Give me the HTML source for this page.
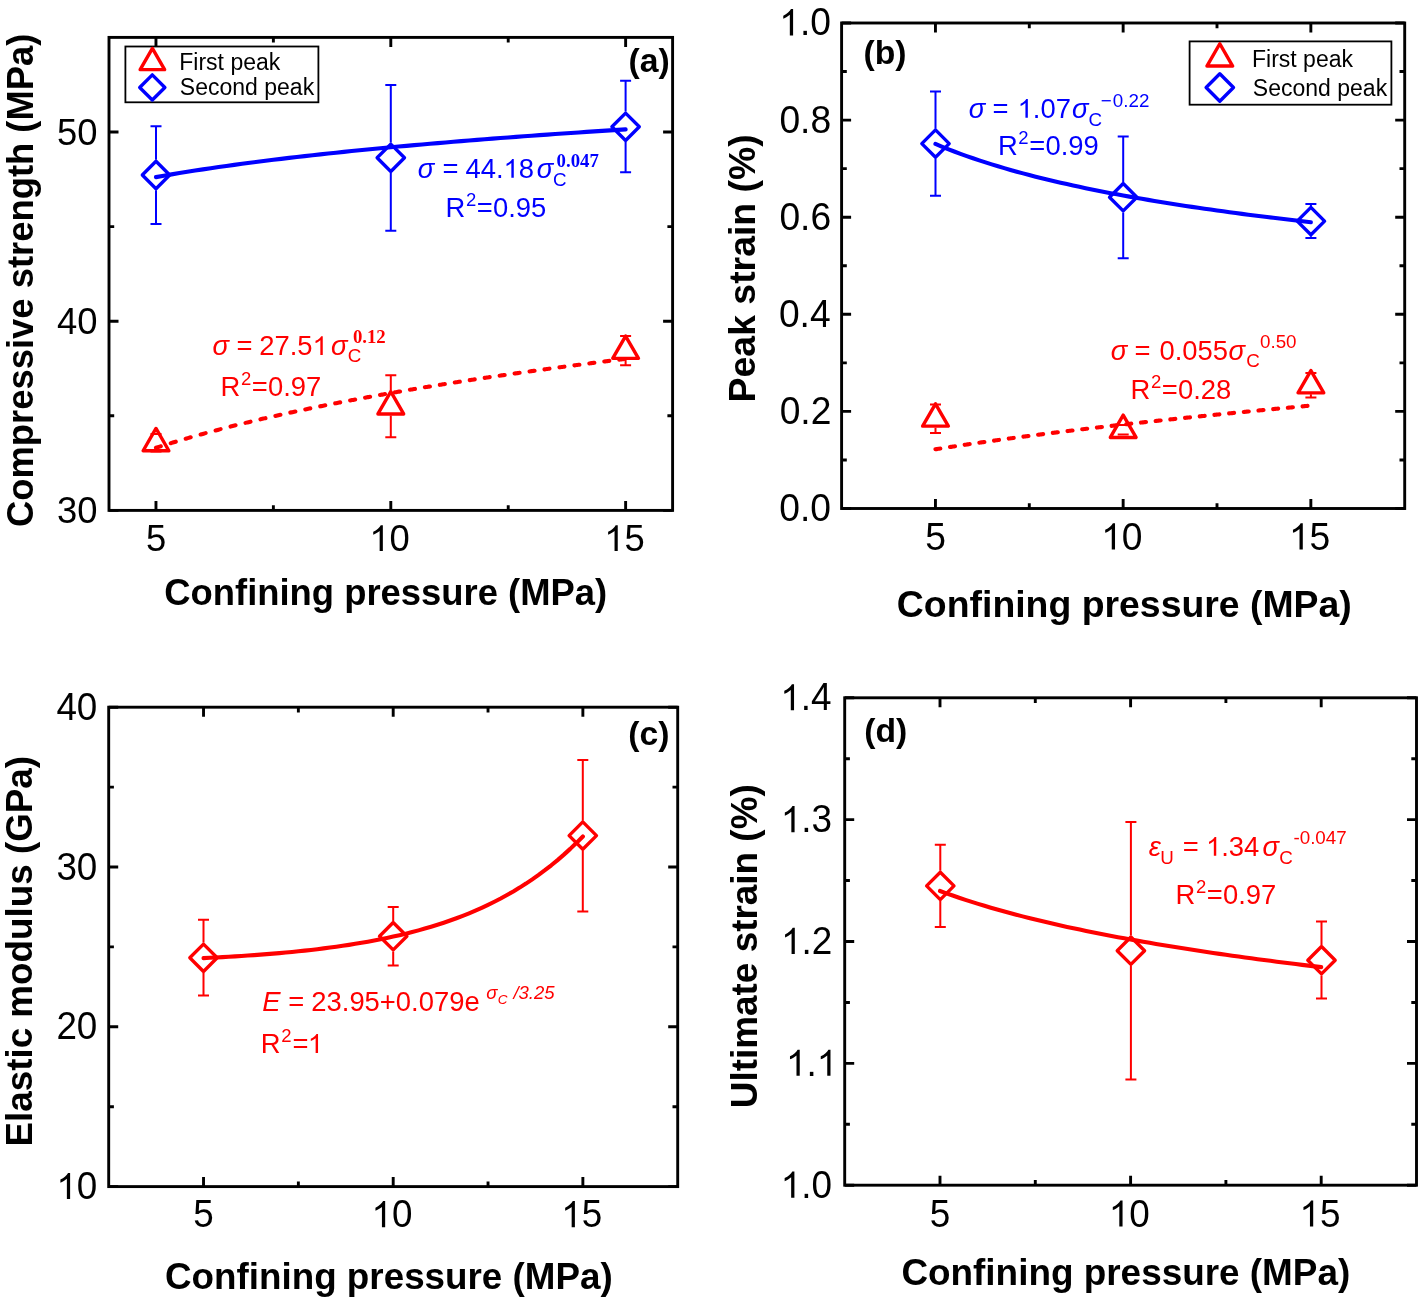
<!DOCTYPE html>
<html><head><meta charset="utf-8"><style>html,body{margin:0;padding:0;background:#fff;overflow:hidden}svg{display:block;will-change:transform}</style></head>
<body><svg width="1419" height="1303" viewBox="0 0 1419 1303">
<rect width="1419" height="1303" fill="#fff"/>
<path d="M155.97 510.40v-9.5M155.97 37.40v9.5M390.80 510.40v-9.5M390.80 37.40v9.5M625.63 510.40v-9.5M625.63 37.40v9.5M273.38 510.40v-5.2M273.38 37.40v5.2M508.22 510.40v-5.2M508.22 37.40v5.2M109.00 510.40h9.5M672.60 510.40h-9.5M109.00 321.20h9.5M672.60 321.20h-9.5M109.00 132.00h9.5M672.60 132.00h-9.5M109.00 415.80h5.2M672.60 415.80h-5.2M109.00 226.60h5.2M672.60 226.60h-5.2" stroke="#000" stroke-width="2.9" fill="none"/>
<rect x="109.00" y="37.40" width="563.60" height="473.00" stroke="#000" stroke-width="2.9" fill="none" stroke-linejoin="miter"/>
<g transform="translate(145.88,551.00) scale(1,1.03)" fill="#000"><text x="0.00" y="0" font-family="'Liberation Sans', sans-serif" font-size="36.4">5</text></g>
<g transform="translate(369.29,551.00) scale(1,1.03)" fill="#000"><path d="M763 0L583 0L583 1098Q518 1038 412 979Q306 920 222 890L222 1057Q373 1125 486 1221Q599 1318 646 1409L763 1409Z" transform="translate(0.00,0) scale(0.01777,-0.01777)"/><text x="20.24" y="0" font-family="'Liberation Sans', sans-serif" font-size="36.4">0</text></g>
<g transform="translate(604.18,551.00) scale(1,1.03)" fill="#000"><path d="M763 0L583 0L583 1098Q518 1038 412 979Q306 920 222 890L222 1057Q373 1125 486 1221Q599 1318 646 1409L763 1409Z" transform="translate(0.00,0) scale(0.01777,-0.01777)"/><text x="20.24" y="0" font-family="'Liberation Sans', sans-serif" font-size="36.4">5</text></g>
<g transform="translate(57.03,523.10) scale(1,1.03)" fill="#000"><text x="0.00" y="0" font-family="'Liberation Sans', sans-serif" font-size="36.4">30</text></g>
<g transform="translate(57.03,333.90) scale(1,1.03)" fill="#000"><text x="0.00" y="0" font-family="'Liberation Sans', sans-serif" font-size="36.4">40</text></g>
<g transform="translate(57.03,144.70) scale(1,1.03)" fill="#000"><text x="0.00" y="0" font-family="'Liberation Sans', sans-serif" font-size="36.4">50</text></g>
<text transform="translate(32.60,280.40) rotate(-90)" x="-246.61" y="0" font-family="'Liberation Sans', sans-serif" font-size="36.4" font-weight="bold" fill="#000">Compressive strength (MPa)</text>
<text x="164.31" y="605.00" font-family="'Liberation Sans', sans-serif" font-size="36.4" font-weight="bold" fill="#000">Confining pressure (MPa)</text>
<text x="628.62" y="71.60" font-family="'Liberation Sans', sans-serif" font-size="33.7" font-weight="bold" fill="#000">(a)</text>
<path d="M150.50 126.20h11.0M150.50 223.90h11.0M156.00 126.20V159.80M156.00 190.20V223.90" stroke="#0000ff" stroke-width="2.0" fill="none"/><path d="M156.00 161.30L169.70 175.00L156.00 188.70L142.30 175.00Z" stroke="#0000ff" stroke-width="3.35" fill="none" stroke-linejoin="round"/>
<path d="M385.30 85.10h11.0M385.30 230.80h11.0M390.80 85.10V142.60M390.80 173.00V230.80" stroke="#0000ff" stroke-width="2.0" fill="none"/><path d="M390.80 144.10L404.50 157.80L390.80 171.50L377.10 157.80Z" stroke="#0000ff" stroke-width="3.35" fill="none" stroke-linejoin="round"/>
<path d="M620.10 80.80h11.0M620.10 172.20h11.0M625.60 80.80V111.60M625.60 142.00V172.20" stroke="#0000ff" stroke-width="2.0" fill="none"/><path d="M625.60 113.10L639.30 126.80L625.60 140.50L611.90 126.80Z" stroke="#0000ff" stroke-width="3.35" fill="none" stroke-linejoin="round"/>
<path d="M150.50 434.00h11.0M150.50 451.40h11.0" stroke="#ff0000" stroke-width="2.0" fill="none"/><path d="M156.00 428.43L168.87 450.73L143.13 450.73Z" stroke="#ff0000" stroke-width="3.4" fill="none" stroke-linejoin="round"/>
<path d="M385.30 375.20h11.0M385.30 437.20h11.0M390.80 375.20V390.63M390.80 415.43V437.20" stroke="#ff0000" stroke-width="2.0" fill="none"/><path d="M390.80 391.63L403.67 413.93L377.93 413.93Z" stroke="#ff0000" stroke-width="3.4" fill="none" stroke-linejoin="round"/>
<path d="M620.10 336.10h11.0M620.10 365.20h11.0M625.60 359.83V365.20" stroke="#ff0000" stroke-width="2.0" fill="none"/><path d="M625.60 336.03L638.47 358.33L612.73 358.33Z" stroke="#ff0000" stroke-width="3.4" fill="none" stroke-linejoin="round"/>
<polyline points="155.97,177.13 163.79,175.74 171.62,174.39 179.45,173.08 187.28,171.81 195.11,170.58 202.93,169.37 210.76,168.20 218.59,167.06 226.42,165.95 234.24,164.86 242.07,163.80 249.90,162.76 257.73,161.75 265.56,160.76 273.38,159.79 281.21,158.84 289.04,157.91 296.87,156.99 304.69,156.10 312.52,155.22 320.35,154.36 328.18,153.52 336.01,152.69 343.83,151.88 351.66,151.08 359.49,150.29 367.32,149.52 375.14,148.76 382.97,148.01 390.80,147.28 398.63,146.55 406.46,145.84 414.28,145.14 422.11,144.45 429.94,143.77 437.77,143.10 445.59,142.43 453.42,141.78 461.25,141.14 469.08,140.50 476.91,139.88 484.73,139.26 492.56,138.65 500.39,138.05 508.22,137.46 516.04,136.87 523.87,136.29 531.70,135.72 539.53,135.16 547.36,134.60 555.18,134.05 563.01,133.50 570.84,132.96 578.67,132.43 586.49,131.90 594.32,131.38 602.15,130.87 609.98,130.36 617.81,129.86 625.63,129.36" stroke="#0000ff" stroke-width="4.1" fill="none" stroke-linecap="round" stroke-linejoin="round"/>
<path d="M155.97 447.82L156.93 447.51L157.90 447.20L158.87 446.89L159.83 446.59L160.80 446.28M170.75 443.18L171.75 442.88L172.75 442.57L173.75 442.27L174.75 441.97L175.75 441.67M185.70 438.73L186.70 438.44L187.70 438.15L188.70 437.86L189.70 437.57L190.70 437.29M200.65 434.49L201.65 434.21L202.65 433.94L203.65 433.66L204.65 433.39L205.65 433.11M215.60 430.44L216.60 430.18L217.60 429.92L218.60 429.65L219.60 429.39L220.60 429.13M230.55 426.58L231.55 426.32L232.55 426.07L233.55 425.82L234.55 425.57L235.55 425.32M245.50 422.87L246.50 422.63L247.50 422.39L248.50 422.15L249.50 421.91L250.50 421.67M260.45 419.31L261.45 419.08L262.45 418.85L263.45 418.62L264.45 418.38L265.45 418.15M275.40 415.89L276.40 415.67L277.40 415.44L278.40 415.22L279.40 415.00L280.40 414.77M290.35 412.59L291.35 412.38L292.35 412.16L293.35 411.94L294.35 411.73L295.35 411.51M305.30 409.41L306.30 409.20L307.30 408.99L308.30 408.78L309.30 408.58L310.30 408.37M320.25 406.33L321.25 406.13L322.25 405.93L323.25 405.73L324.25 405.53L325.25 405.33M335.20 403.36L336.20 403.16L337.20 402.97L338.20 402.77L339.20 402.58L340.20 402.38M350.15 400.47L351.15 400.29L352.15 400.10L353.15 399.91L354.15 399.72L355.15 399.53M365.10 397.68L366.10 397.50L367.10 397.31L368.10 397.13L369.10 396.95L370.10 396.76M380.05 394.97L381.05 394.79L382.05 394.61L383.05 394.43L384.05 394.25L385.05 394.08M395.00 392.33L396.00 392.15L397.00 391.98L398.00 391.81L399.00 391.63L400.00 391.46M409.95 389.76L410.95 389.59L411.95 389.43L412.95 389.26L413.95 389.09L414.95 388.92M424.90 387.27L425.90 387.10L426.90 386.94L427.90 386.77L428.90 386.61L429.90 386.45M439.85 384.83L440.85 384.67L441.85 384.51L442.85 384.35L443.85 384.19L444.85 384.03M454.80 382.46L455.80 382.31L456.80 382.15L457.80 381.99L458.80 381.84L459.80 381.68M469.75 380.15L470.75 380.00L471.75 379.84L472.75 379.69L473.75 379.54L474.75 379.39M484.70 377.89L485.70 377.74L486.70 377.59L487.70 377.44L488.70 377.29L489.70 377.15M499.65 375.68L500.65 375.54L501.65 375.39L502.65 375.25L503.65 375.10L504.65 374.96M514.60 373.53L515.60 373.38L516.60 373.24L517.60 373.10L518.60 372.96L519.60 372.81M529.55 371.42L530.55 371.28L531.55 371.14L532.55 371.00L533.55 370.86L534.55 370.72M544.50 369.35L545.50 369.21L546.50 369.08L547.50 368.94L548.50 368.81L549.50 368.67M559.45 367.33L560.45 367.20L561.45 367.06L562.45 366.93L563.45 366.80L564.45 366.66M574.40 365.35L575.40 365.22L576.40 365.09L577.40 364.96L578.40 364.83L579.40 364.70M589.35 363.41L590.35 363.28L591.35 363.15L592.35 363.02L593.35 362.89L594.35 362.77M604.30 361.50L605.30 361.38L606.30 361.25L607.30 361.13L608.30 361.00L609.30 360.88M619.25 359.64L620.25 359.51L621.25 359.39L622.25 359.27L623.25 359.14L624.25 359.02" stroke="#ff0000" stroke-width="4.1" fill="none" stroke-linecap="round" stroke-linejoin="round"/>
<rect x="125.4" y="46.5" width="193" height="55.8" stroke="#000" stroke-width="1.8" fill="#fff"/>
<path d="M152.40 48.47L164.64 69.67L140.16 69.67Z" stroke="#ff0000" stroke-width="3.4" fill="none" stroke-linejoin="round"/>
<path d="M152.30 74.85L164.90 87.45L152.30 100.05L139.70 87.45Z" stroke="#0000ff" stroke-width="3.35" fill="none" stroke-linejoin="round"/>
<text x="179.31" y="69.80" font-family="'Liberation Sans', sans-serif" font-size="23" fill="#000">First peak</text>
<text x="179.86" y="95.40" font-family="'Liberation Sans', sans-serif" font-size="23" fill="#000">Second peak</text>
<text x="417.79" y="177.80" font-family="'Liberation Sans', sans-serif" font-size="27.4" font-style="italic" fill="#0000ff">σ</text>
<text x="442.46" y="177.80" font-family="'Liberation Sans', sans-serif" font-size="27.4" fill="#0000ff">=</text>
<g transform="translate(465.47,177.80)" fill="#0000ff"><text x="0.00" y="0" font-family="'Liberation Sans', sans-serif" font-size="27.4">44.</text><path d="M763 0L583 0L583 1098Q518 1038 412 979Q306 920 222 890L222 1057Q373 1125 486 1221Q599 1318 646 1409L763 1409Z" transform="translate(38.09,0) scale(0.01338,-0.01338)"/><text x="53.33" y="0" font-family="'Liberation Sans', sans-serif" font-size="27.4">8</text></g>
<text x="536.69" y="177.80" font-family="'Liberation Sans', sans-serif" font-size="27.4" font-style="italic" fill="#0000ff">σ</text>
<text x="553.05" y="185.60" font-family="'Liberation Sans', sans-serif" font-size="18.8" fill="#0000ff">C</text>
<text x="556.58" y="166.60" font-family="'Liberation Serif', serif" font-size="18.8" font-weight="bold" fill="#0000ff">0.047</text>
<text x="445.55" y="216.90" font-family="'Liberation Sans', sans-serif" font-size="27.4" fill="#0000ff">R</text>
<text x="465.97" y="206.00" font-family="'Liberation Sans', sans-serif" font-size="18.5" fill="#0000ff">2</text>
<text x="476.76" y="216.90" font-family="'Liberation Sans', sans-serif" font-size="27.4" fill="#0000ff">=</text>
<text x="493.03" y="216.90" font-family="'Liberation Sans', sans-serif" font-size="27.4" fill="#0000ff">0.95</text>
<text x="212.49" y="355.00" font-family="'Liberation Sans', sans-serif" font-size="27.4" font-style="italic" fill="#ff0000">σ</text>
<text x="236.46" y="355.00" font-family="'Liberation Sans', sans-serif" font-size="27.4" fill="#ff0000">=</text>
<g transform="translate(259.22,355.00)" fill="#ff0000"><text x="0.00" y="0" font-family="'Liberation Sans', sans-serif" font-size="27.4">27.5</text><path d="M763 0L583 0L583 1098Q518 1038 412 979Q306 920 222 890L222 1057Q373 1125 486 1221Q599 1318 646 1409L763 1409Z" transform="translate(53.33,0) scale(0.01338,-0.01338)"/></g>
<text x="330.89" y="355.00" font-family="'Liberation Sans', sans-serif" font-size="27.4" font-style="italic" fill="#ff0000">σ</text>
<text x="347.75" y="361.60" font-family="'Liberation Sans', sans-serif" font-size="18.8" fill="#ff0000">C</text>
<text x="352.88" y="342.80" font-family="'Liberation Serif', serif" font-size="18.8" font-weight="bold" fill="#ff0000">0.12</text>
<text x="220.55" y="395.50" font-family="'Liberation Sans', sans-serif" font-size="27.4" fill="#ff0000">R</text>
<text x="240.97" y="384.60" font-family="'Liberation Sans', sans-serif" font-size="18.5" fill="#ff0000">2</text>
<text x="251.76" y="395.50" font-family="'Liberation Sans', sans-serif" font-size="27.4" fill="#ff0000">=</text>
<text x="268.03" y="395.50" font-family="'Liberation Sans', sans-serif" font-size="27.4" fill="#ff0000">0.97</text>
<path d="M935.45 508.50v-9.5M935.45 23.00v9.5M1123.15 508.50v-9.5M1123.15 23.00v9.5M1310.85 508.50v-9.5M1310.85 23.00v9.5M1029.30 508.50v-5.2M1029.30 23.00v5.2M1217.00 508.50v-5.2M1217.00 23.00v5.2M841.60 508.50h9.5M1404.70 508.50h-9.5M841.60 411.40h9.5M1404.70 411.40h-9.5M841.60 314.30h9.5M1404.70 314.30h-9.5M841.60 217.20h9.5M1404.70 217.20h-9.5M841.60 120.10h9.5M1404.70 120.10h-9.5M841.60 23.00h9.5M1404.70 23.00h-9.5M841.60 459.95h5.2M1404.70 459.95h-5.2M841.60 362.85h5.2M1404.70 362.85h-5.2M841.60 265.75h5.2M1404.70 265.75h-5.2M841.60 168.65h5.2M1404.70 168.65h-5.2M841.60 71.55h5.2M1404.70 71.55h-5.2" stroke="#000" stroke-width="2.9" fill="none"/>
<rect x="841.60" y="23.00" width="563.10" height="485.50" stroke="#000" stroke-width="2.9" fill="none" stroke-linejoin="miter"/>
<g transform="translate(925.14,549.50) scale(1,1.03)" fill="#000"><text x="0.00" y="0" font-family="'Liberation Sans', sans-serif" font-size="37.2">5</text></g>
<g transform="translate(1101.17,549.50) scale(1,1.03)" fill="#000"><path d="M763 0L583 0L583 1098Q518 1038 412 979Q306 920 222 890L222 1057Q373 1125 486 1221Q599 1318 646 1409L763 1409Z" transform="translate(0.00,0) scale(0.01816,-0.01816)"/><text x="20.69" y="0" font-family="'Liberation Sans', sans-serif" font-size="37.2">0</text></g>
<g transform="translate(1288.93,549.50) scale(1,1.03)" fill="#000"><path d="M763 0L583 0L583 1098Q518 1038 412 979Q306 920 222 890L222 1057Q373 1125 486 1221Q599 1318 646 1409L763 1409Z" transform="translate(0.00,0) scale(0.01816,-0.01816)"/><text x="20.69" y="0" font-family="'Liberation Sans', sans-serif" font-size="37.2">5</text></g>
<g transform="translate(779.24,520.90) scale(1,1.03)" fill="#000"><text x="0.00" y="0" font-family="'Liberation Sans', sans-serif" font-size="37.2">0.0</text></g>
<g transform="translate(779.66,423.80) scale(1,1.03)" fill="#000"><text x="0.00" y="0" font-family="'Liberation Sans', sans-serif" font-size="37.2">0.2</text></g>
<g transform="translate(778.88,326.70) scale(1,1.03)" fill="#000"><text x="0.00" y="0" font-family="'Liberation Sans', sans-serif" font-size="37.2">0.4</text></g>
<g transform="translate(779.42,229.60) scale(1,1.03)" fill="#000"><text x="0.00" y="0" font-family="'Liberation Sans', sans-serif" font-size="37.2">0.6</text></g>
<g transform="translate(779.40,132.50) scale(1,1.03)" fill="#000"><text x="0.00" y="0" font-family="'Liberation Sans', sans-serif" font-size="37.2">0.8</text></g>
<g transform="translate(779.24,35.40) scale(1,1.03)" fill="#000"><path d="M763 0L583 0L583 1098Q518 1038 412 979Q306 920 222 890L222 1057Q373 1125 486 1221Q599 1318 646 1409L763 1409Z" transform="translate(0.00,0) scale(0.01816,-0.01816)"/><text x="20.69" y="0" font-family="'Liberation Sans', sans-serif" font-size="37.2">.0</text></g>
<text transform="translate(755.00,268.00) rotate(-90)" x="-134.39" y="0" font-family="'Liberation Sans', sans-serif" font-size="37.4" font-weight="bold" fill="#000">Peak strain (%)</text>
<text x="896.87" y="617.00" font-family="'Liberation Sans', sans-serif" font-size="37.4" font-weight="bold" fill="#000">Confining pressure (MPa)</text>
<text x="863.52" y="64.00" font-family="'Liberation Sans', sans-serif" font-size="33.7" font-weight="bold" fill="#000">(b)</text>
<path d="M930.00 91.50h11.0M930.00 195.70h11.0M935.50 91.50V128.40M935.50 158.80V195.70" stroke="#0000ff" stroke-width="2.0" fill="none"/><path d="M935.50 129.90L949.20 143.60L935.50 157.30L921.80 143.60Z" stroke="#0000ff" stroke-width="3.35" fill="none" stroke-linejoin="round"/>
<path d="M1117.70 136.40h11.0M1117.70 258.30h11.0M1123.20 136.40V182.00M1123.20 212.40V258.30" stroke="#0000ff" stroke-width="2.0" fill="none"/><path d="M1123.20 183.50L1136.90 197.20L1123.20 210.90L1109.50 197.20Z" stroke="#0000ff" stroke-width="3.35" fill="none" stroke-linejoin="round"/>
<path d="M1305.40 204.00h11.0M1305.40 238.10h11.0M1310.90 204.00V205.90M1310.90 236.30V238.10" stroke="#0000ff" stroke-width="2.0" fill="none"/><path d="M1310.90 207.40L1324.60 221.10L1310.90 234.80L1297.20 221.10Z" stroke="#0000ff" stroke-width="3.35" fill="none" stroke-linejoin="round"/>
<path d="M930.00 404.40h11.0M930.00 433.00h11.0M935.50 427.63V433.00" stroke="#ff0000" stroke-width="2.0" fill="none"/><path d="M935.50 403.83L948.37 426.13L922.63 426.13Z" stroke="#ff0000" stroke-width="3.4" fill="none" stroke-linejoin="round"/>
<path d="M1117.70 425.00h11.0M1117.70 434.50h11.0" stroke="#ff0000" stroke-width="2.0" fill="none"/><path d="M1123.20 415.13L1136.07 437.43L1110.33 437.43Z" stroke="#ff0000" stroke-width="3.4" fill="none" stroke-linejoin="round"/>
<path d="M1305.40 373.00h11.0M1305.40 397.60h11.0M1310.90 394.33V397.60" stroke="#ff0000" stroke-width="2.0" fill="none"/><path d="M1310.90 370.53L1323.77 392.83L1298.03 392.83Z" stroke="#ff0000" stroke-width="3.4" fill="none" stroke-linejoin="round"/>
<polyline points="935.45,143.91 941.71,146.53 947.96,149.05 954.22,151.48 960.48,153.82 966.73,156.07 972.99,158.25 979.25,160.35 985.50,162.39 991.76,164.36 998.02,166.27 1004.27,168.13 1010.53,169.93 1016.79,171.68 1023.04,173.38 1029.30,175.03 1035.56,176.64 1041.81,178.20 1048.07,179.73 1054.33,181.22 1060.58,182.67 1066.84,184.09 1073.10,185.47 1079.35,186.82 1085.61,188.14 1091.87,189.43 1098.12,190.69 1104.38,191.93 1110.64,193.14 1116.89,194.32 1123.15,195.48 1129.41,196.62 1135.66,197.73 1141.92,198.82 1148.18,199.89 1154.43,200.94 1160.69,201.97 1166.95,202.99 1173.20,203.98 1179.46,204.96 1185.72,205.92 1191.97,206.86 1198.23,207.79 1204.49,208.70 1210.74,209.59 1217.00,210.47 1223.26,211.34 1229.51,212.20 1235.77,213.04 1242.03,213.86 1248.28,214.68 1254.54,215.48 1260.80,216.27 1267.05,217.05 1273.31,217.81 1279.57,218.57 1285.82,219.31 1292.08,220.05 1298.34,220.77 1304.59,221.49 1310.85,222.19" stroke="#0000ff" stroke-width="4.1" fill="none" stroke-linecap="round" stroke-linejoin="round"/>
<path d="M935.45 449.29L936.42 449.14L937.39 448.98L938.36 448.83L939.33 448.68L940.30 448.52M949.99 447.02L950.99 446.87L951.99 446.72L952.99 446.56L953.99 446.41L954.99 446.26M964.68 444.81L965.68 444.66L966.68 444.52L967.68 444.37L968.68 444.22L969.68 444.07M979.37 442.67L980.37 442.53L981.37 442.39L982.37 442.24L983.37 442.10L984.37 441.96M994.06 440.60L995.06 440.46L996.06 440.32L997.06 440.19L998.06 440.05L999.06 439.91M1008.75 438.59L1009.75 438.46L1010.75 438.32L1011.75 438.19L1012.75 438.05L1013.75 437.92M1023.44 436.64L1024.44 436.51L1025.44 436.38L1026.44 436.24L1027.44 436.11L1028.44 435.98M1038.13 434.73L1039.13 434.61L1040.13 434.48L1041.13 434.35L1042.13 434.22L1043.13 434.10M1052.82 432.88L1053.82 432.75L1054.82 432.63L1055.82 432.51L1056.82 432.38L1057.82 432.26M1067.51 431.07L1068.51 430.95L1069.51 430.82L1070.51 430.70L1071.51 430.58L1072.51 430.46M1082.20 429.30L1083.20 429.18L1084.20 429.06L1085.20 428.94L1086.20 428.82L1087.20 428.70M1096.89 427.57L1097.89 427.45L1098.89 427.33L1099.89 427.22L1100.89 427.10L1101.89 426.99M1111.58 425.87L1112.58 425.76L1113.58 425.64L1114.58 425.53L1115.58 425.41L1116.58 425.30M1126.27 424.21L1127.27 424.10L1128.27 423.99L1129.27 423.87L1130.27 423.76L1131.27 423.65M1140.96 422.58L1141.96 422.47L1142.96 422.36L1143.96 422.25L1144.96 422.14L1145.96 422.03M1155.65 420.98L1156.65 420.87L1157.65 420.76L1158.65 420.66L1159.65 420.55L1160.65 420.44M1170.34 419.41L1171.34 419.30L1172.34 419.20L1173.34 419.09L1174.34 418.99L1175.34 418.88M1185.03 417.87L1186.03 417.76L1187.03 417.66L1188.03 417.55L1189.03 417.45L1190.03 417.35M1199.72 416.35L1200.72 416.24L1201.72 416.14L1202.72 416.04L1203.72 415.94L1204.72 415.84M1214.41 414.85L1215.41 414.75L1216.41 414.65L1217.41 414.55L1218.41 414.45L1219.41 414.35M1229.10 413.38L1230.10 413.28L1231.10 413.18L1232.10 413.09L1233.10 412.99L1234.10 412.89M1243.79 411.93L1244.79 411.84L1245.79 411.74L1246.79 411.64L1247.79 411.54L1248.79 411.45M1258.48 410.51L1259.48 410.41L1260.48 410.32L1261.48 410.22L1262.48 410.12L1263.48 410.03M1273.17 409.10L1274.17 409.01L1275.17 408.91L1276.17 408.82L1277.17 408.72L1278.17 408.63M1287.86 407.71L1288.86 407.62L1289.86 407.53L1290.86 407.43L1291.86 407.34L1292.86 407.25M1302.55 406.35L1303.55 406.25L1304.55 406.16L1305.55 406.07L1306.55 405.98L1307.55 405.89" stroke="#ff0000" stroke-width="4.1" fill="none" stroke-linecap="round" stroke-linejoin="round"/>
<rect x="1189.6" y="41.4" width="201.8" height="63.3" stroke="#000" stroke-width="1.8" fill="#fff"/>
<path d="M1219.80 43.73L1232.67 66.03L1206.93 66.03Z" stroke="#ff0000" stroke-width="3.4" fill="none" stroke-linejoin="round"/>
<path d="M1219.80 73.80L1233.50 87.50L1219.80 101.20L1206.10 87.50Z" stroke="#0000ff" stroke-width="3.35" fill="none" stroke-linejoin="round"/>
<text x="1252.01" y="67.00" font-family="'Liberation Sans', sans-serif" font-size="23" fill="#000">First peak</text>
<text x="1252.86" y="95.80" font-family="'Liberation Sans', sans-serif" font-size="23" fill="#000">Second peak</text>
<text x="968.69" y="117.80" font-family="'Liberation Sans', sans-serif" font-size="27.4" font-style="italic" fill="#0000ff">σ</text>
<text x="992.46" y="117.80" font-family="'Liberation Sans', sans-serif" font-size="27.4" fill="#0000ff">=</text>
<g transform="translate(1017.63,117.80)" fill="#0000ff"><path d="M763 0L583 0L583 1098Q518 1038 412 979Q306 920 222 890L222 1057Q373 1125 486 1221Q599 1318 646 1409L763 1409Z" transform="translate(0.00,0) scale(0.01338,-0.01338)"/><text x="15.24" y="0" font-family="'Liberation Sans', sans-serif" font-size="27.4">.07</text></g>
<text x="1071.89" y="117.80" font-family="'Liberation Sans', sans-serif" font-size="27.4" font-style="italic" fill="#0000ff">σ</text>
<text x="1088.45" y="125.60" font-family="'Liberation Sans', sans-serif" font-size="18.8" fill="#0000ff">C</text>
<text x="1100.67" y="106.60" font-family="'Liberation Sans', sans-serif" font-size="18.8" fill="#0000ff">−</text>
<text x="1112.87" y="106.60" font-family="'Liberation Sans', sans-serif" font-size="18.8" fill="#0000ff">0.22</text>
<text x="997.95" y="154.80" font-family="'Liberation Sans', sans-serif" font-size="27.4" fill="#0000ff">R</text>
<text x="1018.37" y="143.90" font-family="'Liberation Sans', sans-serif" font-size="18.5" fill="#0000ff">2</text>
<text x="1029.16" y="154.80" font-family="'Liberation Sans', sans-serif" font-size="27.4" fill="#0000ff">=</text>
<text x="1045.43" y="154.80" font-family="'Liberation Sans', sans-serif" font-size="27.4" fill="#0000ff">0.99</text>
<text x="1110.69" y="360.00" font-family="'Liberation Sans', sans-serif" font-size="27.4" font-style="italic" fill="#ff0000">σ</text>
<text x="1134.56" y="360.00" font-family="'Liberation Sans', sans-serif" font-size="27.4" fill="#ff0000">=</text>
<text x="1159.53" y="360.00" font-family="'Liberation Sans', sans-serif" font-size="27.4" fill="#ff0000">0.055</text>
<text x="1228.59" y="360.00" font-family="'Liberation Sans', sans-serif" font-size="27.4" font-style="italic" fill="#ff0000">σ</text>
<text x="1246.35" y="366.60" font-family="'Liberation Sans', sans-serif" font-size="18.8" fill="#ff0000">C</text>
<text x="1259.97" y="347.80" font-family="'Liberation Sans', sans-serif" font-size="18.8" fill="#ff0000">0.50</text>
<text x="1130.55" y="398.90" font-family="'Liberation Sans', sans-serif" font-size="27.4" fill="#ff0000">R</text>
<text x="1150.97" y="388.00" font-family="'Liberation Sans', sans-serif" font-size="18.5" fill="#ff0000">2</text>
<text x="1161.76" y="398.90" font-family="'Liberation Sans', sans-serif" font-size="27.4" fill="#ff0000">=</text>
<text x="1178.03" y="398.90" font-family="'Liberation Sans', sans-serif" font-size="27.4" fill="#ff0000">0.28</text>
<path d="M203.53 1186.60v-9.5M203.53 707.20v9.5M393.20 1186.60v-9.5M393.20 707.20v9.5M582.87 1186.60v-9.5M582.87 707.20v9.5M298.37 1186.60v-5.2M298.37 707.20v5.2M488.03 1186.60v-5.2M488.03 707.20v5.2M108.70 1186.60h9.5M677.70 1186.60h-9.5M108.70 1026.80h9.5M677.70 1026.80h-9.5M108.70 867.00h9.5M677.70 867.00h-9.5M108.70 707.20h9.5M677.70 707.20h-9.5M108.70 1106.70h5.2M677.70 1106.70h-5.2M108.70 946.90h5.2M677.70 946.90h-5.2M108.70 787.10h5.2M677.70 787.10h-5.2" stroke="#000" stroke-width="2.9" fill="none"/>
<rect x="108.70" y="707.20" width="569.00" height="479.40" stroke="#000" stroke-width="2.9" fill="none" stroke-linejoin="miter"/>
<g transform="translate(193.34,1227.20) scale(1,1.03)" fill="#000"><text x="0.00" y="0" font-family="'Liberation Sans', sans-serif" font-size="36.8">5</text></g>
<g transform="translate(371.46,1227.20) scale(1,1.03)" fill="#000"><path d="M763 0L583 0L583 1098Q518 1038 412 979Q306 920 222 890L222 1057Q373 1125 486 1221Q599 1318 646 1409L763 1409Z" transform="translate(0.00,0) scale(0.01797,-0.01797)"/><text x="20.47" y="0" font-family="'Liberation Sans', sans-serif" font-size="36.8">0</text></g>
<g transform="translate(561.18,1227.20) scale(1,1.03)" fill="#000"><path d="M763 0L583 0L583 1098Q518 1038 412 979Q306 920 222 890L222 1057Q373 1125 486 1221Q599 1318 646 1409L763 1409Z" transform="translate(0.00,0) scale(0.01797,-0.01797)"/><text x="20.47" y="0" font-family="'Liberation Sans', sans-serif" font-size="36.8">5</text></g>
<g transform="translate(56.40,1199.10) scale(1,1.03)" fill="#000"><path d="M763 0L583 0L583 1098Q518 1038 412 979Q306 920 222 890L222 1057Q373 1125 486 1221Q599 1318 646 1409L763 1409Z" transform="translate(0.00,0) scale(0.01797,-0.01797)"/><text x="20.47" y="0" font-family="'Liberation Sans', sans-serif" font-size="36.8">0</text></g>
<g transform="translate(56.40,1039.30) scale(1,1.03)" fill="#000"><text x="0.00" y="0" font-family="'Liberation Sans', sans-serif" font-size="36.8">20</text></g>
<g transform="translate(56.40,879.50) scale(1,1.03)" fill="#000"><text x="0.00" y="0" font-family="'Liberation Sans', sans-serif" font-size="36.8">30</text></g>
<g transform="translate(56.40,719.70) scale(1,1.03)" fill="#000"><text x="0.00" y="0" font-family="'Liberation Sans', sans-serif" font-size="36.8">40</text></g>
<text transform="translate(31.90,950.90) rotate(-90)" x="-195.60" y="0" font-family="'Liberation Sans', sans-serif" font-size="36.8" font-weight="bold" fill="#000">Elastic modulus (GPa)</text>
<text x="164.99" y="1288.90" font-family="'Liberation Sans', sans-serif" font-size="36.8" font-weight="bold" fill="#000">Confining pressure (MPa)</text>
<text x="628.32" y="744.50" font-family="'Liberation Sans', sans-serif" font-size="33.7" font-weight="bold" fill="#000">(c)</text>
<path d="M198.00 919.80h11.0M198.00 995.60h11.0M203.50 919.80V942.60M203.50 973.00V995.60" stroke="#ff0000" stroke-width="2.0" fill="none"/><path d="M203.50 944.10L217.20 957.80L203.50 971.50L189.80 957.80Z" stroke="#ff0000" stroke-width="3.35" fill="none" stroke-linejoin="round"/>
<path d="M387.70 907.10h11.0M387.70 965.50h11.0M393.20 907.10V921.00M393.20 951.40V965.50" stroke="#ff0000" stroke-width="2.0" fill="none"/><path d="M393.20 922.50L406.90 936.20L393.20 949.90L379.50 936.20Z" stroke="#ff0000" stroke-width="3.35" fill="none" stroke-linejoin="round"/>
<path d="M577.30 760.00h11.0M577.30 911.60h11.0M582.80 760.00V820.40M582.80 850.80V911.60" stroke="#ff0000" stroke-width="2.0" fill="none"/><path d="M582.80 821.90L596.50 835.60L582.80 849.30L569.10 835.60Z" stroke="#ff0000" stroke-width="3.35" fill="none" stroke-linejoin="round"/>
<polyline points="203.53,958.10 209.86,957.79 216.18,957.46 222.50,957.12 228.82,956.76 235.14,956.38 241.47,955.98 247.79,955.56 254.11,955.12 260.43,954.65 266.76,954.16 273.08,953.64 279.40,953.10 285.72,952.53 292.04,951.92 298.37,951.29 304.69,950.62 311.01,949.92 317.33,949.18 323.66,948.40 329.98,947.58 336.30,946.72 342.62,945.81 348.94,944.85 355.27,943.85 361.59,942.79 367.91,941.67 374.23,940.50 380.56,939.26 386.88,937.96 393.20,936.60 399.52,935.15 405.84,933.64 412.17,932.04 418.49,930.36 424.81,928.59 431.13,926.73 437.46,924.77 443.78,922.71 450.10,920.53 456.42,918.25 462.74,915.84 469.07,913.31 475.39,910.64 481.71,907.84 488.03,904.88 494.36,901.77 500.68,898.50 507.00,895.05 513.32,891.43 519.64,887.61 525.97,883.59 532.29,879.36 538.61,874.91 544.93,870.22 551.26,865.29 557.58,860.09 563.90,854.63 570.22,848.87 576.54,842.82 582.87,836.44" stroke="#ff0000" stroke-width="4.1" fill="none" stroke-linecap="round" stroke-linejoin="round"/>
<text x="262.26" y="1010.70" font-family="'Liberation Sans', sans-serif" font-size="27.4" font-style="italic" fill="#ff0000">E</text>
<text x="288.16" y="1010.70" font-family="'Liberation Sans', sans-serif" font-size="27.4" fill="#ff0000">=</text>
<text x="311.32" y="1010.70" font-family="'Liberation Sans', sans-serif" font-size="27.4" fill="#ff0000">23.95+0.079e</text>
<text x="486.29" y="998.80" font-family="'Liberation Sans', sans-serif" font-size="18.5" font-style="italic" fill="#ff0000">σ</text>
<text x="497.86" y="1003.90" font-family="'Liberation Sans', sans-serif" font-size="13.5" font-style="italic" fill="#ff0000">C</text>
<text x="513.45" y="999.10" font-family="'Liberation Sans', sans-serif" font-size="18.5" font-style="italic" fill="#ff0000">/3.25</text>
<text x="260.65" y="1052.90" font-family="'Liberation Sans', sans-serif" font-size="27.4" fill="#ff0000">R</text>
<text x="281.37" y="1042.00" font-family="'Liberation Sans', sans-serif" font-size="18.5" fill="#ff0000">2</text>
<text x="292.56" y="1052.90" font-family="'Liberation Sans', sans-serif" font-size="27.4" fill="#ff0000">=</text>
<g transform="translate(307.83,1052.90)" fill="#ff0000"><path d="M763 0L583 0L583 1098Q518 1038 412 979Q306 920 222 890L222 1057Q373 1125 486 1221Q599 1318 646 1409L763 1409Z" transform="translate(0.00,0) scale(0.01338,-0.01338)"/></g>
<path d="M940.00 1185.20v-9.5M940.00 697.80v9.5M1130.60 1185.20v-9.5M1130.60 697.80v9.5M1321.20 1185.20v-9.5M1321.20 697.80v9.5M1035.30 1185.20v-5.2M1035.30 697.80v5.2M1225.90 1185.20v-5.2M1225.90 697.80v5.2M844.70 1185.20h9.5M1416.50 1185.20h-9.5M844.70 1063.35h9.5M1416.50 1063.35h-9.5M844.70 941.50h9.5M1416.50 941.50h-9.5M844.70 819.65h9.5M1416.50 819.65h-9.5M844.70 697.80h9.5M1416.50 697.80h-9.5M844.70 1124.27h5.2M1416.50 1124.27h-5.2M844.70 1002.43h5.2M1416.50 1002.43h-5.2M844.70 880.57h5.2M1416.50 880.57h-5.2M844.70 758.72h5.2M1416.50 758.72h-5.2" stroke="#000" stroke-width="2.9" fill="none"/>
<rect x="844.70" y="697.80" width="571.80" height="487.40" stroke="#000" stroke-width="2.9" fill="none" stroke-linejoin="miter"/>
<g transform="translate(929.78,1226.60) scale(1,1.03)" fill="#000"><text x="0.00" y="0" font-family="'Liberation Sans', sans-serif" font-size="36.9">5</text></g>
<g transform="translate(1108.80,1226.60) scale(1,1.03)" fill="#000"><path d="M763 0L583 0L583 1098Q518 1038 412 979Q306 920 222 890L222 1057Q373 1125 486 1221Q599 1318 646 1409L763 1409Z" transform="translate(0.00,0) scale(0.01802,-0.01802)"/><text x="20.52" y="0" font-family="'Liberation Sans', sans-serif" font-size="36.9">0</text></g>
<g transform="translate(1299.45,1226.60) scale(1,1.03)" fill="#000"><path d="M763 0L583 0L583 1098Q518 1038 412 979Q306 920 222 890L222 1057Q373 1125 486 1221Q599 1318 646 1409L763 1409Z" transform="translate(0.00,0) scale(0.01802,-0.01802)"/><text x="20.52" y="0" font-family="'Liberation Sans', sans-serif" font-size="36.9">5</text></g>
<g transform="translate(780.65,1197.70) scale(1,1.03)" fill="#000"><path d="M763 0L583 0L583 1098Q518 1038 412 979Q306 920 222 890L222 1057Q373 1125 486 1221Q599 1318 646 1409L763 1409Z" transform="translate(0.00,0) scale(0.01802,-0.01802)"/><text x="20.52" y="0" font-family="'Liberation Sans', sans-serif" font-size="36.9">.0</text></g>
<g transform="translate(785.98,1075.85) scale(1,1.03)" fill="#000"><path d="M763 0L583 0L583 1098Q518 1038 412 979Q306 920 222 890L222 1057Q373 1125 486 1221Q599 1318 646 1409L763 1409Z" transform="translate(0.00,0) scale(0.01802,-0.01802)"/><text x="20.52" y="0" font-family="'Liberation Sans', sans-serif" font-size="36.9">.</text><path d="M763 0L583 0L583 1098Q518 1038 412 979Q306 920 222 890L222 1057Q373 1125 486 1221Q599 1318 646 1409L763 1409Z" transform="translate(30.77,0) scale(0.01802,-0.01802)"/></g>
<g transform="translate(781.06,954.00) scale(1,1.03)" fill="#000"><path d="M763 0L583 0L583 1098Q518 1038 412 979Q306 920 222 890L222 1057Q373 1125 486 1221Q599 1318 646 1409L763 1409Z" transform="translate(0.00,0) scale(0.01802,-0.01802)"/><text x="20.52" y="0" font-family="'Liberation Sans', sans-serif" font-size="36.9">.2</text></g>
<g transform="translate(780.83,832.15) scale(1,1.03)" fill="#000"><path d="M763 0L583 0L583 1098Q518 1038 412 979Q306 920 222 890L222 1057Q373 1125 486 1221Q599 1318 646 1409L763 1409Z" transform="translate(0.00,0) scale(0.01802,-0.01802)"/><text x="20.52" y="0" font-family="'Liberation Sans', sans-serif" font-size="36.9">.3</text></g>
<g transform="translate(780.29,710.30) scale(1,1.03)" fill="#000"><path d="M763 0L583 0L583 1098Q518 1038 412 979Q306 920 222 890L222 1057Q373 1125 486 1221Q599 1318 646 1409L763 1409Z" transform="translate(0.00,0) scale(0.01802,-0.01802)"/><text x="20.52" y="0" font-family="'Liberation Sans', sans-serif" font-size="36.9">.4</text></g>
<text transform="translate(757.40,946.00) rotate(-90)" x="-162.17" y="0" font-family="'Liberation Sans', sans-serif" font-size="36.9" font-weight="bold" fill="#000">Ultimate strain (%)</text>
<text x="901.39" y="1284.80" font-family="'Liberation Sans', sans-serif" font-size="36.9" font-weight="bold" fill="#000">Confining pressure (MPa)</text>
<text x="864.32" y="741.50" font-family="'Liberation Sans', sans-serif" font-size="33.7" font-weight="bold" fill="#000">(d)</text>
<path d="M934.80 844.70h11.0M934.80 927.10h11.0M940.30 844.70V870.70M940.30 901.10V927.10" stroke="#ff0000" stroke-width="2.0" fill="none"/><path d="M940.30 872.20L954.00 885.90L940.30 899.60L926.60 885.90Z" stroke="#ff0000" stroke-width="3.35" fill="none" stroke-linejoin="round"/>
<path d="M1125.40 822.00h11.0M1125.40 1079.40h11.0M1130.90 822.00V935.50M1130.90 965.90V1079.40" stroke="#ff0000" stroke-width="2.0" fill="none"/><path d="M1130.90 937.00L1144.60 950.70L1130.90 964.40L1117.20 950.70Z" stroke="#ff0000" stroke-width="3.35" fill="none" stroke-linejoin="round"/>
<path d="M1316.00 921.60h11.0M1316.00 998.40h11.0M1321.50 921.60V945.00M1321.50 975.40V998.40" stroke="#ff0000" stroke-width="2.0" fill="none"/><path d="M1321.50 946.50L1335.20 960.20L1321.50 973.90L1307.80 960.20Z" stroke="#ff0000" stroke-width="3.35" fill="none" stroke-linejoin="round"/>
<polyline points="940.00,890.96 946.35,893.30 952.71,895.55 959.06,897.73 965.41,899.84 971.77,901.89 978.12,903.88 984.47,905.81 990.83,907.69 997.18,909.52 1003.53,911.30 1009.89,913.03 1016.24,914.72 1022.59,916.36 1028.95,917.97 1035.30,919.54 1041.65,921.07 1048.01,922.57 1054.36,924.04 1060.71,925.47 1067.07,926.88 1073.42,928.25 1079.77,929.60 1086.13,930.92 1092.48,932.21 1098.83,933.48 1105.19,934.73 1111.54,935.95 1117.89,937.15 1124.25,938.33 1130.60,939.49 1136.95,940.63 1143.31,941.74 1149.66,942.84 1156.01,943.93 1162.37,944.99 1168.72,946.04 1175.07,947.07 1181.43,948.08 1187.78,949.08 1194.13,950.07 1200.49,951.03 1206.84,951.99 1213.19,952.93 1219.55,953.86 1225.90,954.77 1232.25,955.68 1238.61,956.57 1244.96,957.45 1251.31,958.31 1257.67,959.17 1264.02,960.01 1270.37,960.84 1276.73,961.67 1283.08,962.48 1289.43,963.28 1295.79,964.07 1302.14,964.85 1308.49,965.63 1314.85,966.39 1321.20,967.15" stroke="#ff0000" stroke-width="4.1" fill="none" stroke-linecap="round" stroke-linejoin="round"/>
<text x="1148.85" y="855.80" font-family="'Liberation Sans', sans-serif" font-size="27.4" font-style="italic" fill="#ff0000">ε</text>
<text x="1182.86" y="855.80" font-family="'Liberation Sans', sans-serif" font-size="27.4" fill="#ff0000">=</text>
<g transform="translate(1206.03,855.80)" fill="#ff0000"><path d="M763 0L583 0L583 1098Q518 1038 412 979Q306 920 222 890L222 1057Q373 1125 486 1221Q599 1318 646 1409L763 1409Z" transform="translate(0.00,0) scale(0.01338,-0.01338)"/><text x="15.24" y="0" font-family="'Liberation Sans', sans-serif" font-size="27.4">.34</text></g>
<text x="1262.39" y="855.80" font-family="'Liberation Sans', sans-serif" font-size="27.4" font-style="italic" fill="#ff0000">σ</text>
<text x="1160.25" y="863.50" font-family="'Liberation Sans', sans-serif" font-size="18.8" fill="#ff0000">U</text>
<text x="1279.35" y="863.50" font-family="'Liberation Sans', sans-serif" font-size="18.8" fill="#ff0000">C</text>
<text x="1293.46" y="843.50" font-family="'Liberation Sans', sans-serif" font-size="18.8" fill="#ff0000">-0.047</text>
<text x="1175.55" y="904.00" font-family="'Liberation Sans', sans-serif" font-size="27.4" fill="#ff0000">R</text>
<text x="1195.97" y="893.10" font-family="'Liberation Sans', sans-serif" font-size="18.5" fill="#ff0000">2</text>
<text x="1206.76" y="904.00" font-family="'Liberation Sans', sans-serif" font-size="27.4" fill="#ff0000">=</text>
<text x="1223.03" y="904.00" font-family="'Liberation Sans', sans-serif" font-size="27.4" fill="#ff0000">0.97</text>
</svg></body></html>
